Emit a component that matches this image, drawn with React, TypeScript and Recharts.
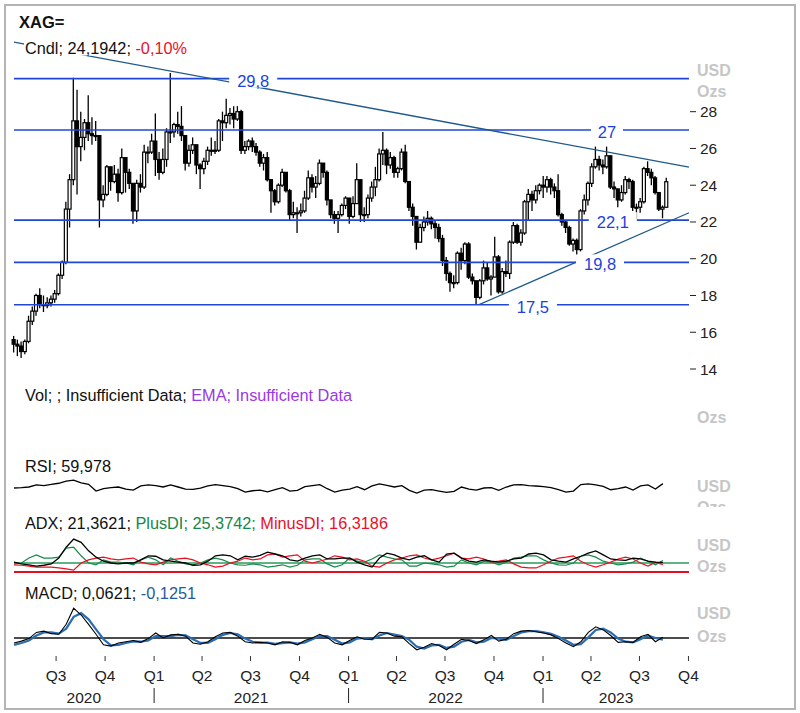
import React from "react"
import { ComposedChart, LineChart, Line, Bar, XAxis, YAxis, ReferenceLine, ReferenceDot } from "recharts"

const FONT = "'Liberation Sans', Arial, sans-serif"

// x axis in days relative to 1 Jul 2020
const X_MIN = -79
const X_MAX = 1188

// weekly candles, first week starts 13 Apr 2020
const FIRST_OPEN = 15.6
const closes = [
  15.35, 15.25, 14.95, 15.5, 16.6, 17.15, 18.0, 17.5, 17.45, 17.6,
  17.8, 18.1, 19.1, 19.8, 22.7, 24.3, 27.5, 26.1, 26.6, 27.4,
  26.8, 26.7, 26.7, 23.2, 23.5, 25.0, 24.2, 24.6, 23.6, 25.5,
  24.7, 24.1, 22.6, 24.1, 23.9, 25.8, 25.8, 26.4, 25.4, 24.7,
  25.4, 26.9, 26.9, 27.3, 27.2, 26.7, 25.2, 25.9, 26.2, 25.1,
  24.9, 25.3, 25.9, 25.9, 25.9, 27.5, 27.4, 27.8, 27.9, 27.6,
  28.0, 25.9, 26.1, 26.4, 26.1, 25.8, 25.2, 25.5, 24.3, 23.7,
  23.1, 24.0, 24.7, 23.7, 22.4, 22.5, 22.5, 22.6, 23.3, 24.4,
  23.9, 24.1, 25.2, 24.7, 23.2, 22.4, 22.2, 22.4, 22.9, 23.3,
  22.3, 23.0, 24.3, 22.4, 22.4, 23.3, 23.9, 24.3, 25.7, 25.9,
  25.1, 25.5, 24.7, 24.9, 25.8, 24.2, 22.8, 22.3, 20.9, 21.7,
  22.0, 22.2, 21.9, 21.7, 21.1, 19.9, 19.2, 18.7, 18.7, 20.3,
  19.9, 20.8, 19.0, 18.8, 17.9, 18.8, 19.5, 18.9, 19.0, 20.1,
  18.2, 19.3, 19.2, 20.9, 21.8, 20.9, 21.4, 23.1, 23.5, 23.2,
  23.7, 24.0, 23.9, 24.3, 23.9, 23.7, 22.4, 22.0, 21.7, 20.8,
  21.0, 20.5, 22.6, 23.2, 24.1, 25.0, 25.4, 25.1, 25.0, 25.6,
  23.9, 23.8, 23.2, 23.6, 24.3, 24.2, 22.8, 22.8, 23.1, 24.9,
  24.7, 24.4, 23.6, 22.7, 22.8, 24.19,
]
const highs = [
  15.8, 15.6, 15.5, 15.6, 16.9, 17.4, 18.1, 18.4, 18.0, 17.9,
  18.0, 18.3, 19.2, 19.9, 23.1, 24.6, 29.85, 29.2, 28.0, 27.6,
  28.9, 27.7, 27.5, 26.7, 24.0, 25.1, 25.0, 25.1, 24.9, 26.0,
  25.2, 24.9, 24.1, 24.3, 24.6, 26.2, 26.1, 26.8, 27.9, 25.8,
  26.0, 27.1, 30.1, 27.4, 28.0, 28.3, 26.7, 26.2, 26.6, 26.2,
  25.2, 25.5, 26.1, 26.6, 26.4, 27.6, 28.0, 28.7, 28.2, 28.3,
  28.3, 28.1, 26.4, 26.5, 26.6, 26.3, 25.9, 25.7, 25.8, 24.3,
  23.8, 24.1, 24.9, 24.7, 23.8, 23.1, 22.8, 23.0, 23.7, 24.8,
  24.6, 24.5, 25.4, 25.2, 24.8, 23.2, 22.6, 22.6, 23.0, 23.4,
  23.3, 23.4, 25.2, 24.3, 22.8, 23.5, 24.2, 25.0, 26.0, 26.9,
  26.0, 25.8, 25.6, 25.0, 26.0, 26.2, 24.2, 23.0, 22.3, 21.9,
  22.3, 22.6, 22.3, 22.1, 21.9, 21.3, 20.1, 19.3, 19.1, 20.4,
  20.6, 20.9, 20.9, 19.2, 18.8, 18.9, 19.9, 19.8, 19.1, 21.2,
  20.2, 19.5, 19.9, 21.0, 22.0, 21.9, 21.6, 23.2, 23.8, 23.7,
  24.0, 24.1, 24.5, 24.5, 24.4, 24.1, 24.6, 22.5, 22.1, 21.8,
  21.1, 21.1, 22.7, 23.5, 24.2, 25.2, 26.1, 25.6, 25.4, 26.1,
  25.6, 24.2, 23.8, 24.0, 24.5, 24.4, 24.3, 23.0, 23.3, 25.0,
  25.3, 24.9, 24.5, 23.6, 22.9, 24.4,
]
const lows = [
  14.9, 14.7, 14.6, 14.8, 15.4, 16.4, 16.9, 17.3, 17.1, 17.3,
  17.4, 17.6, 18.0, 18.9, 19.7, 21.7, 24.0, 23.5, 25.3, 25.9,
  26.4, 26.2, 26.4, 21.7, 22.8, 23.4, 23.7, 24.1, 23.1, 23.5,
  23.6, 23.8, 21.9, 22.0, 23.6, 23.8, 25.2, 25.7, 24.5, 24.3,
  24.6, 25.0, 26.3, 26.6, 26.8, 26.4, 24.8, 25.0, 25.7, 24.6,
  23.8, 24.6, 25.1, 25.6, 25.7, 25.8, 26.4, 27.1, 27.3, 27.1,
  27.5, 25.7, 25.7, 25.9, 25.8, 25.6, 25.0, 24.8, 24.2, 22.5,
  22.9, 23.0, 23.9, 23.6, 22.1, 22.2, 21.4, 22.3, 22.5, 23.2,
  23.6, 23.3, 24.0, 24.4, 22.9, 22.2, 21.9, 21.4, 22.3, 22.7,
  21.9, 22.2, 23.0, 22.0, 22.0, 22.2, 23.1, 23.4, 24.2, 25.1,
  24.6, 24.9, 24.4, 24.4, 24.8, 24.1, 22.6, 21.8, 20.5, 20.9,
  21.5, 21.8, 21.6, 21.1, 20.9, 19.6, 18.8, 18.2, 18.4, 18.6,
  19.4, 19.7, 18.9, 18.6, 17.5, 17.8, 18.6, 18.8, 18.0, 19.0,
  18.1, 18.1, 19.0, 18.9, 20.8, 20.8, 20.7, 21.3, 22.1, 22.6,
  23.0, 23.5, 23.3, 23.6, 23.5, 23.3, 22.3, 21.8, 21.4, 20.7,
  20.4, 19.9, 20.4, 22.4, 22.9, 23.9, 24.9, 24.8, 24.6, 24.9,
  23.8, 23.3, 22.8, 23.1, 23.5, 23.8, 22.6, 22.1, 22.5, 23.0,
  24.5, 24.0, 23.5, 22.6, 22.2, 22.8,
]

// indicators, every two weeks
const rsi = [
  47, 48, 50, 56, 54, 58, 61, 67, 70, 62, 58, 38, 45, 48, 50, 44, 41, 53, 56, 54,
  50, 56, 50, 44, 43, 47, 53, 57, 54, 51, 45, 35, 39, 41, 36, 42, 48, 38, 40, 51,
  54, 57, 45, 35, 41, 44, 51, 42, 53, 59, 55, 50, 54, 40, 32, 41, 42, 38, 34, 37,
  50, 44, 41, 47, 48, 40, 50, 56, 57, 54, 53, 51, 48, 42, 35, 38, 57, 59, 56, 52,
  42, 45, 50, 41, 53, 56, 44, 60,
]
const adx = [
  22, 18, 16, 13, 15, 18, 31, 55, 73, 66, 47, 33, 24, 20, 18, 20, 20, 27, 36, 35,
  27, 24, 22, 20, 15, 16, 24, 36, 38, 36, 27, 35, 33, 37, 44, 40, 36, 27, 24, 31,
  36, 38, 29, 29, 31, 31, 22, 16, 11, 31, 42, 38, 31, 27, 33, 36, 27, 22, 40, 42,
  31, 24, 22, 27, 24, 22, 24, 29, 31, 40, 42, 38, 27, 24, 22, 29, 35, 42, 47, 38,
  29, 27, 26, 31, 29, 24, 22, 21.4,
]
const plusDi = [
  18, 20, 31, 38, 31, 31, 33, 53, 55, 36, 20, 16, 27, 22, 22, 20, 16, 27, 33, 27,
  16, 31, 24, 18, 16, 20, 27, 31, 27, 20, 16, 15, 18, 16, 11, 13, 16, 11, 15, 27,
  29, 29, 18, 11, 16, 31, 24, 22, 29, 38, 33, 29, 27, 13, 13, 20, 18, 16, 11, 13,
  27, 20, 16, 24, 22, 16, 22, 31, 33, 36, 36, 27, 20, 16, 15, 20, 35, 38, 33, 24,
  20, 16, 18, 22, 31, 24, 16, 25.4,
]
const minusDi = [
  16, 15, 13, 11, 11, 11, 9, 7, 4, 20, 27, 31, 33, 29, 27, 29, 31, 22, 18, 16,
  22, 27, 29, 31, 27, 20, 16, 11, 13, 20, 24, 31, 27, 29, 38, 40, 33, 36, 38, 24,
  20, 24, 29, 36, 33, 27, 29, 24, 13, 11, 20, 27, 31, 36, 38, 31, 27, 31, 36, 42,
  31, 29, 33, 29, 22, 24, 27, 18, 11, 9, 9, 16, 24, 31, 33, 36, 24, 16, 11, 16,
  22, 29, 33, 29, 20, 13, 22, 16.3,
]
const macd = [
  -0.4, -0.25, -0.05, 0.45, 0.55, 0.35, 0.3, 1.1, 2.4, 1.85,
  1.1, 0.3, -0.55, -0.65, -0.4, -0.3, -0.2, -0.35, -0.05, 0.4,
  0.0, 0.25, 0.3, 0.15, -0.4, -0.5, -0.3, 0.1, 0.4, 0.45,
  0.15, -0.3, -0.4, -0.35, -0.4, -0.55, -0.3, -0.35, -0.55, -0.2,
  0.0, 0.3, 0.05, -0.4, -0.55, -0.2, 0.1, -0.1, -0.1, 0.45,
  0.4, 0.15, 0.1, -0.45, -0.95, -0.75, -0.45, -0.6, -0.95, -0.5,
  -0.1, -0.2, -0.45, -0.15, 0.2, -0.25, -0.1, 0.35, 0.55, 0.6,
  0.5, 0.4, 0.25, -0.05, -0.4, -0.7, -0.3, 0.45, 0.9, 0.65,
  0.2, -0.35, -0.3, -0.35, 0.1, 0.3, -0.3, 0.06,
]
const signal = [
  -0.55, -0.4, -0.2, 0.2, 0.45, 0.45, 0.35, 0.75, 1.7, 2.0,
  1.5, 0.7, -0.1, -0.6, -0.55, -0.4, -0.28, -0.3, -0.2, 0.15,
  0.15, 0.15, 0.25, 0.22, -0.1, -0.4, -0.4, -0.1, 0.25, 0.4,
  0.3, -0.05, -0.3, -0.38, -0.38, -0.48, -0.42, -0.35, -0.45, -0.35,
  -0.1, 0.15, 0.15, -0.15, -0.45, -0.35, -0.05, 0.0, -0.1, 0.2,
  0.4, 0.28, 0.15, -0.15, -0.7, -0.85, -0.6, -0.55, -0.8, -0.7,
  -0.3, -0.15, -0.35, -0.3, 0.0, -0.05, -0.15, 0.15, 0.45, 0.55,
  0.55, 0.45, 0.33, 0.1, -0.2, -0.55, -0.5, 0.05, 0.65, 0.75,
  0.45, -0.05, -0.3, -0.35, -0.1, 0.2, 0.0, -0.13,
]

const priceTicks = [14, 16, 18, 20, 22, 24, 26, 28]
const levels = [29.8, 27, 22.1, 19.8, 17.5]
const levelTags = [
  { day: 370, value: 29.8, text: "29,8" },
  { day: 1034, value: 27, text: "27" },
  { day: 1045, value: 22.1, text: "22,1" },
  { day: 1021, value: 19.8, text: "19,8" },
  { day: 895, value: 17.5, text: "17,5" },
]
const downTrend = [{ x: -79, y: 31.79 }, { x: 1188, y: 24.98 }]
const upTrend = [{ x: 794, y: 17.5 }, { x: 1188, y: 22.5 }]

const quarterTicks = [0, 92, 184, 274, 365, 457, 549, 639, 730, 822, 914, 1004, 1095, 1187]
const quarterNames = ["Q3", "Q4", "Q1", "Q2", "Q3", "Q4", "Q1", "Q2", "Q3", "Q4", "Q1", "Q2", "Q3", "Q4"]
const yearBounds = [184, 549, 914]
const yearMids = [52, 366, 731, 1051]
const yearNames = ["2020", "2021", "2022", "2023"]

const candles = closes.map((c, i) => ({
  t: -79 + 7 * i,
  open: i === 0 ? FIRST_OPEN : closes[i - 1],
  close: c,
  high: highs[i],
  low: lows[i],
  range: [lows[i], highs[i]],
}))

const ind = rsi.map((r, k) => ({
  t: -79 + 14 * k,
  rsi: r,
  adx: adx[k],
  plus: plusDi[k],
  minus: minusDi[k],
  macd: macd[k],
  signal: signal[k],
}))

const Candle = (props: any) => {
  const { x, y, width, height, payload } = props
  const { open, close, high, low } = payload
  const span = high - low || 1
  const py = (v: number) => y + ((high - v) / span) * height
  const cx = x + width / 2
  const top = py(Math.max(open, close))
  const bot = py(Math.min(open, close))
  const up = close >= open
  return (
    <g>
      <line x1={cx} x2={cx} y1={y} y2={y + height} stroke="#000" strokeWidth={1.3} />
      <rect x={x} y={top} width={width} height={Math.max(bot - top, 1)} fill={up ? "#fff" : "#000"} stroke="#000" strokeWidth={1.2} />
    </g>
  )
}

const LevelTag = ({ cx, cy, text }: any) => {
  const w = text.length * 8 + 16
  return (
    <g>
      <rect x={cx - w / 2} y={cy - 8} width={w} height={17} fill="#fff" />
      <text x={cx} y={cy + 8} textAnchor="middle" fontSize={16.5} fill="#1b3fe0" fontFamily={FONT}>
        {text}
      </text>
    </g>
  )
}

const PriceTick = (props: any) => {
  const { x, y, payload } = props
  return (
    <g>
      <line x1={x + 1} x2={x + 7} y1={y} y2={y} stroke="#222" />
      <text x={x + 11} y={y + 5.5} fontSize={15.5} fill="#222" fontFamily={FONT}>
        {payload.value}
      </text>
    </g>
  )
}

const YearTick = (props: any) => {
  const { x, y, payload } = props
  const b = yearBounds.indexOf(payload.value)
  if (b >= 0) return <line x1={x} x2={x} y1={y} y2={y + 15} stroke="#222" />
  const m = yearMids.indexOf(payload.value)
  return (
    <text x={x} y={y + 14.5} textAnchor="middle" fontSize={15.5} fill="#222" fontFamily={FONT}>
      {yearNames[m]}
    </text>
  )
}

const side = (y: number, text: string) => (
  <text x={697} y={y} fontSize={16} fontWeight="bold" fill="#c6c6c6">
    {text}
  </text>
)

export default function App() {
  return (
    <div style={{ position: "absolute", left: 0, top: 0, width: 800, height: 713, background: "#fff", fontFamily: FONT }}>
      <div style={{ position: "absolute", left: 4, top: 4, width: 788, height: 702, border: "2px solid #b4b4b4" }} />

      <div style={{ position: "absolute", left: 0, top: 0 }}>
        <ComposedChart width={800} height={380} data={candles} margin={{ top: 40, right: 71, bottom: 4, left: 14 }}>
          <XAxis dataKey="t" type="number" domain={[X_MIN, X_MAX]} hide />
          <YAxis
            orientation="right"
            type="number"
            domain={[13.62, 31.9]}
            ticks={priceTicks}
            interval={0}
            width={40}
            axisLine={false}
            tickLine={false}
            tickSize={0}
            tickMargin={0}
            tick={(p: any) => <PriceTick {...p} />}
          />
          {levels.map((l) => (
            <ReferenceLine key={l} y={l} stroke="#2146d8" strokeWidth={1.6} />
          ))}
          <ReferenceLine segment={downTrend} stroke="#1f5a8c" strokeWidth={1.3} />
          <ReferenceLine segment={upTrend} stroke="#1f5a8c" strokeWidth={1.3} />
          <Bar dataKey="range" barSize={3} shape={(p: any) => <Candle {...p} />} isAnimationActive={false} />
          {levelTags.map((l) => (
            <ReferenceDot
              key={l.text}
              x={l.day}
              y={l.value}
              r={1}
              shape={(p: any) => <LevelTag cx={p.cx} cy={p.cy} text={l.text} />}
            />
          ))}
        </ComposedChart>
      </div>

      <div style={{ position: "absolute", left: 0, top: 470 }}>
        <LineChart width={800} height={34} data={ind} margin={{ top: 0, right: 111, bottom: 0, left: 14 }}>
          <XAxis dataKey="t" type="number" domain={[X_MIN, X_MAX]} hide />
          <YAxis domain={[0, 100]} hide />
          <Line dataKey="rsi" stroke="#000" strokeWidth={1.3} dot={false} isAnimationActive={false} />
        </LineChart>
      </div>

      <div style={{ position: "absolute", left: 0, top: 536 }}>
        <LineChart width={800} height={40} data={ind} margin={{ top: 0, right: 111, bottom: 4, left: 14 }}>
          <XAxis dataKey="t" type="number" domain={[X_MIN, X_MAX]} hide />
          <YAxis domain={[0, 80]} hide />
          <ReferenceLine y={20} stroke="#2a9a5c" strokeWidth={1.6} />
          <ReferenceLine y={0} stroke="#e0101e" strokeWidth={2} />
          <Line dataKey="plus" stroke="#178a4c" strokeWidth={1.2} dot={false} isAnimationActive={false} />
          <Line dataKey="minus" stroke="#ea1020" strokeWidth={1.2} dot={false} isAnimationActive={false} />
          <Line dataKey="adx" stroke="#000" strokeWidth={1.3} dot={false} isAnimationActive={false} />
        </LineChart>
      </div>

      <div style={{ position: "absolute", left: 0, top: 600 }}>
        <LineChart width={800} height={108} data={ind} margin={{ top: 0, right: 111, bottom: 0, left: 14 }}>
          <XAxis
            dataKey="t"
            type="number"
            domain={[X_MIN, X_MAX]}
            ticks={quarterTicks}
            interval={0}
            height={32}
            axisLine={false}
            tickSize={5}
            tickMargin={9}
            tickLine={{ stroke: "#333" }}
            tick={{ fontSize: 15.5, fill: "#222" }}
            tickFormatter={(v: number) => quarterNames[quarterTicks.indexOf(v)]}
          />
          <XAxis
            xAxisId="yr"
            dataKey="t"
            type="number"
            domain={[X_MIN, X_MAX]}
            ticks={[...yearBounds, ...yearMids]}
            interval={0}
            height={20}
            axisLine={false}
            tickLine={false}
            tickSize={0}
            tickMargin={0}
            tick={(p: any) => <YearTick {...p} />}
          />
          <YAxis domain={[-1.45, 3.06]} hide />
          <ReferenceLine y={0} stroke="#111" strokeWidth={1.3} />
          <Line dataKey="signal" stroke="#2a6db3" strokeWidth={2.2} dot={false} isAnimationActive={false} />
          <Line dataKey="macd" stroke="#000" strokeWidth={1.1} dot={false} isAnimationActive={false} />
        </LineChart>
      </div>

      <svg width={800} height={713} style={{ position: "absolute", left: 0, top: 0, pointerEvents: "none" }} fontFamily={FONT}>
        <defs>
          <clipPath id="rsiSide">
            <rect x={690} y={470} width={80} height={37} />
          </clipPath>
        </defs>
        <text x={19} y={27.5} fontSize={16.5} fontWeight="bold" fill="#111">XAG=</text>
        <rect x={24} y={40} width={170} height={15.5} fill="#fff" />
        <text x={25} y={54} fontSize={16.3} fill="#111">
          {"Cndl; 24,1942; "}
          <tspan fill="#e8102a">-0,10%</tspan>
        </text>
        <text x={25} y={400.7} fontSize={16.3} fill="#111">
          {"Vol; ; Insufficient Data; "}
          <tspan fill="#9a38e6">EMA; Insufficient Data</tspan>
        </text>
        <text x={25} y={471.5} fontSize={16.3} fill="#111">RSI; 59,978</text>
        <text x={25} y={529} fontSize={16.3} fill="#111">
          {"ADX; 21,3621; "}
          <tspan fill="#15884a">{"PlusDI; 25,3742; "}</tspan>
          <tspan fill="#e8102a">MinusDI; 16,3186</tspan>
        </text>
        <text x={25} y={599} fontSize={16.3} fill="#111">
          {"MACD; 0,0621; "}
          <tspan fill="#1f5c99">-0,1251</tspan>
        </text>
        {side(75.7, "USD")}
        {side(96.7, "Ozs")}
        {side(423, "Ozs")}
        {side(491.7, "USD")}
        <g clipPath="url(#rsiSide)">{side(512.7, "Ozs")}</g>
        {side(550.7, "USD")}
        {side(571.7, "Ozs")}
        {side(618.7, "USD")}
        {side(642.2, "Ozs")}
      </svg>
    </div>
  )
}
